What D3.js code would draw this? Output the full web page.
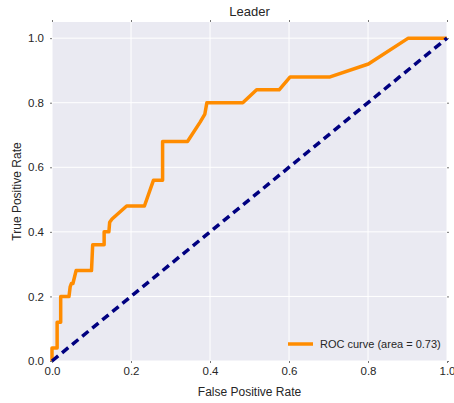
<!DOCTYPE html>
<html>
<head>
<meta charset="utf-8">
<script src="https://cdn.jsdelivr.net/npm/d3@7"></script>
<style>
  body { margin: 0; background: #fff; }
  text { font-family: "Liberation Sans", Arial, sans-serif; fill: #262626; }
</style>
</head>
<body>
<div id="chart"></div>
<script>
// ROC curve points
const fpr = [0, 0, 0.013, 0.013, 0.022, 0.022, 0.043, 0.046, 0.049, 0.053, 0.061, 0.100, 0.103, 0.132, 0.132, 0.144, 0.146, 0.152, 0.189, 0.234, 0.257, 0.280, 0.280, 0.343, 0.375, 0.387, 0.392, 0.483, 0.518, 0.575, 0.603, 0.704, 0.801, 0.902, 1.0];
const tpr = [0, 0.04, 0.04, 0.12, 0.12, 0.20, 0.20, 0.23, 0.24, 0.24, 0.28, 0.28, 0.36, 0.36, 0.40, 0.40, 0.43, 0.44, 0.48, 0.48, 0.56, 0.56, 0.68, 0.68, 0.74, 0.765, 0.80, 0.80, 0.84, 0.84, 0.88, 0.88, 0.92, 1.0, 1.0];
const chanceLine = [0, 1];
const ticks = [0.0, 0.2, 0.4, 0.6, 0.8, 1.0];
const aucLabel = "ROC curve (area = 0.73)";

const svgWidth = 454, svgHeight = 403;
const margin = { top: 22, right: 7, bottom: 42, left: 52 };
const width = svgWidth - margin.left - margin.right;
const height = svgHeight - margin.top - margin.bottom;

const svgRoot = d3.select("#chart").append("svg")
  .attr("width", svgWidth)
  .attr("height", svgHeight);
const svg = svgRoot.append("g")
  .attr("transform", `translate(${margin.left},${margin.top})`);

const x = d3.scaleLinear().domain([0, 1]).range([0, width]);
const y = d3.scaleLinear().domain([0, 1.05]).range([height, 0]);

// background
svg.append("rect")
  .attr("width", width).attr("height", height)
  .attr("fill", "#EAEAF2");

// grid
svg.append("g").selectAll("line").data(ticks).join("line")
  .attr("x1", d => x(d)).attr("x2", d => x(d))
  .attr("y1", 0).attr("y2", height)
  .attr("stroke", "#fff").attr("stroke-width", 1);
svg.append("g").selectAll("line").data(ticks).join("line")
  .attr("x1", 0).attr("x2", width)
  .attr("y1", d => y(d)).attr("y2", d => y(d))
  .attr("stroke", "#fff").attr("stroke-width", 1);

// axes
const xAxisG = svg.append("g")
  .attr("transform", `translate(0,${height})`)
  .call(d3.axisBottom(x).tickValues(ticks).tickFormat(d3.format(".1f")).tickSize(2).tickPadding(4));
const yAxisG = svg.append("g")
  .call(d3.axisLeft(y).tickValues(ticks).tickFormat(d3.format(".1f")).tickSize(2).tickPadding(6));
svg.append("g")
  .call(d3.axisTop(x).tickValues(ticks).tickFormat("").tickSize(2));
svg.append("g")
  .attr("transform", `translate(${width},0)`)
  .call(d3.axisRight(y).tickValues(ticks).tickFormat("").tickSize(2));

svg.selectAll(".domain").remove();
svg.selectAll(".tick line").attr("stroke", "#777");
[xAxisG, yAxisG].forEach(g => g.selectAll("text")
  .style("font-size", "11.5px")
  .style("font-family", "Liberation Sans, Arial, sans-serif")
  .attr("fill", "#262626"));

// lines
const line = d3.line()
  .x(d => x(d[0]))
  .y(d => y(d[1]));

svg.append("path")
  .datum(fpr.map((f, i) => [f, tpr[i]]))
  .attr("fill", "none")
  .attr("stroke", "#FF8C00")
  .attr("stroke-width", 3.5)
  .attr("stroke-linejoin", "round")
  .attr("d", line);

svg.append("path")
  .datum(chanceLine.map(v => [v, v]))
  .attr("fill", "none")
  .attr("stroke", "#000080")
  .attr("stroke-width", 3.5)
  .attr("stroke-dasharray", "8,5")
  .attr("d", line);

// legend
const legend = svg.append("g")
  .attr("transform", `translate(${width - 159},${height - 17})`);
legend.append("line")
  .attr("x1", 0).attr("x2", 25)
  .attr("stroke", "#FF8C00").attr("stroke-width", 3.5);
legend.append("text")
  .attr("x", 32).attr("y", 4)
  .style("font-size", "11px")
  .text(aucLabel);

// title and labels
svgRoot.append("text")
  .attr("x", margin.left + width / 2).attr("y", 16)
  .attr("text-anchor", "middle")
  .style("font-size", "13px")
  .text("Leader");
svgRoot.append("text")
  .attr("x", margin.left + width / 2).attr("y", 396)
  .attr("text-anchor", "middle")
  .style("font-size", "12px")
  .text("False Positive Rate");
svgRoot.append("text")
  .attr("transform", `translate(21,${margin.top + height / 2}) rotate(-90)`)
  .attr("text-anchor", "middle")
  .style("font-size", "12px")
  .text("True Positive Rate");
</script>
</body>
</html>
